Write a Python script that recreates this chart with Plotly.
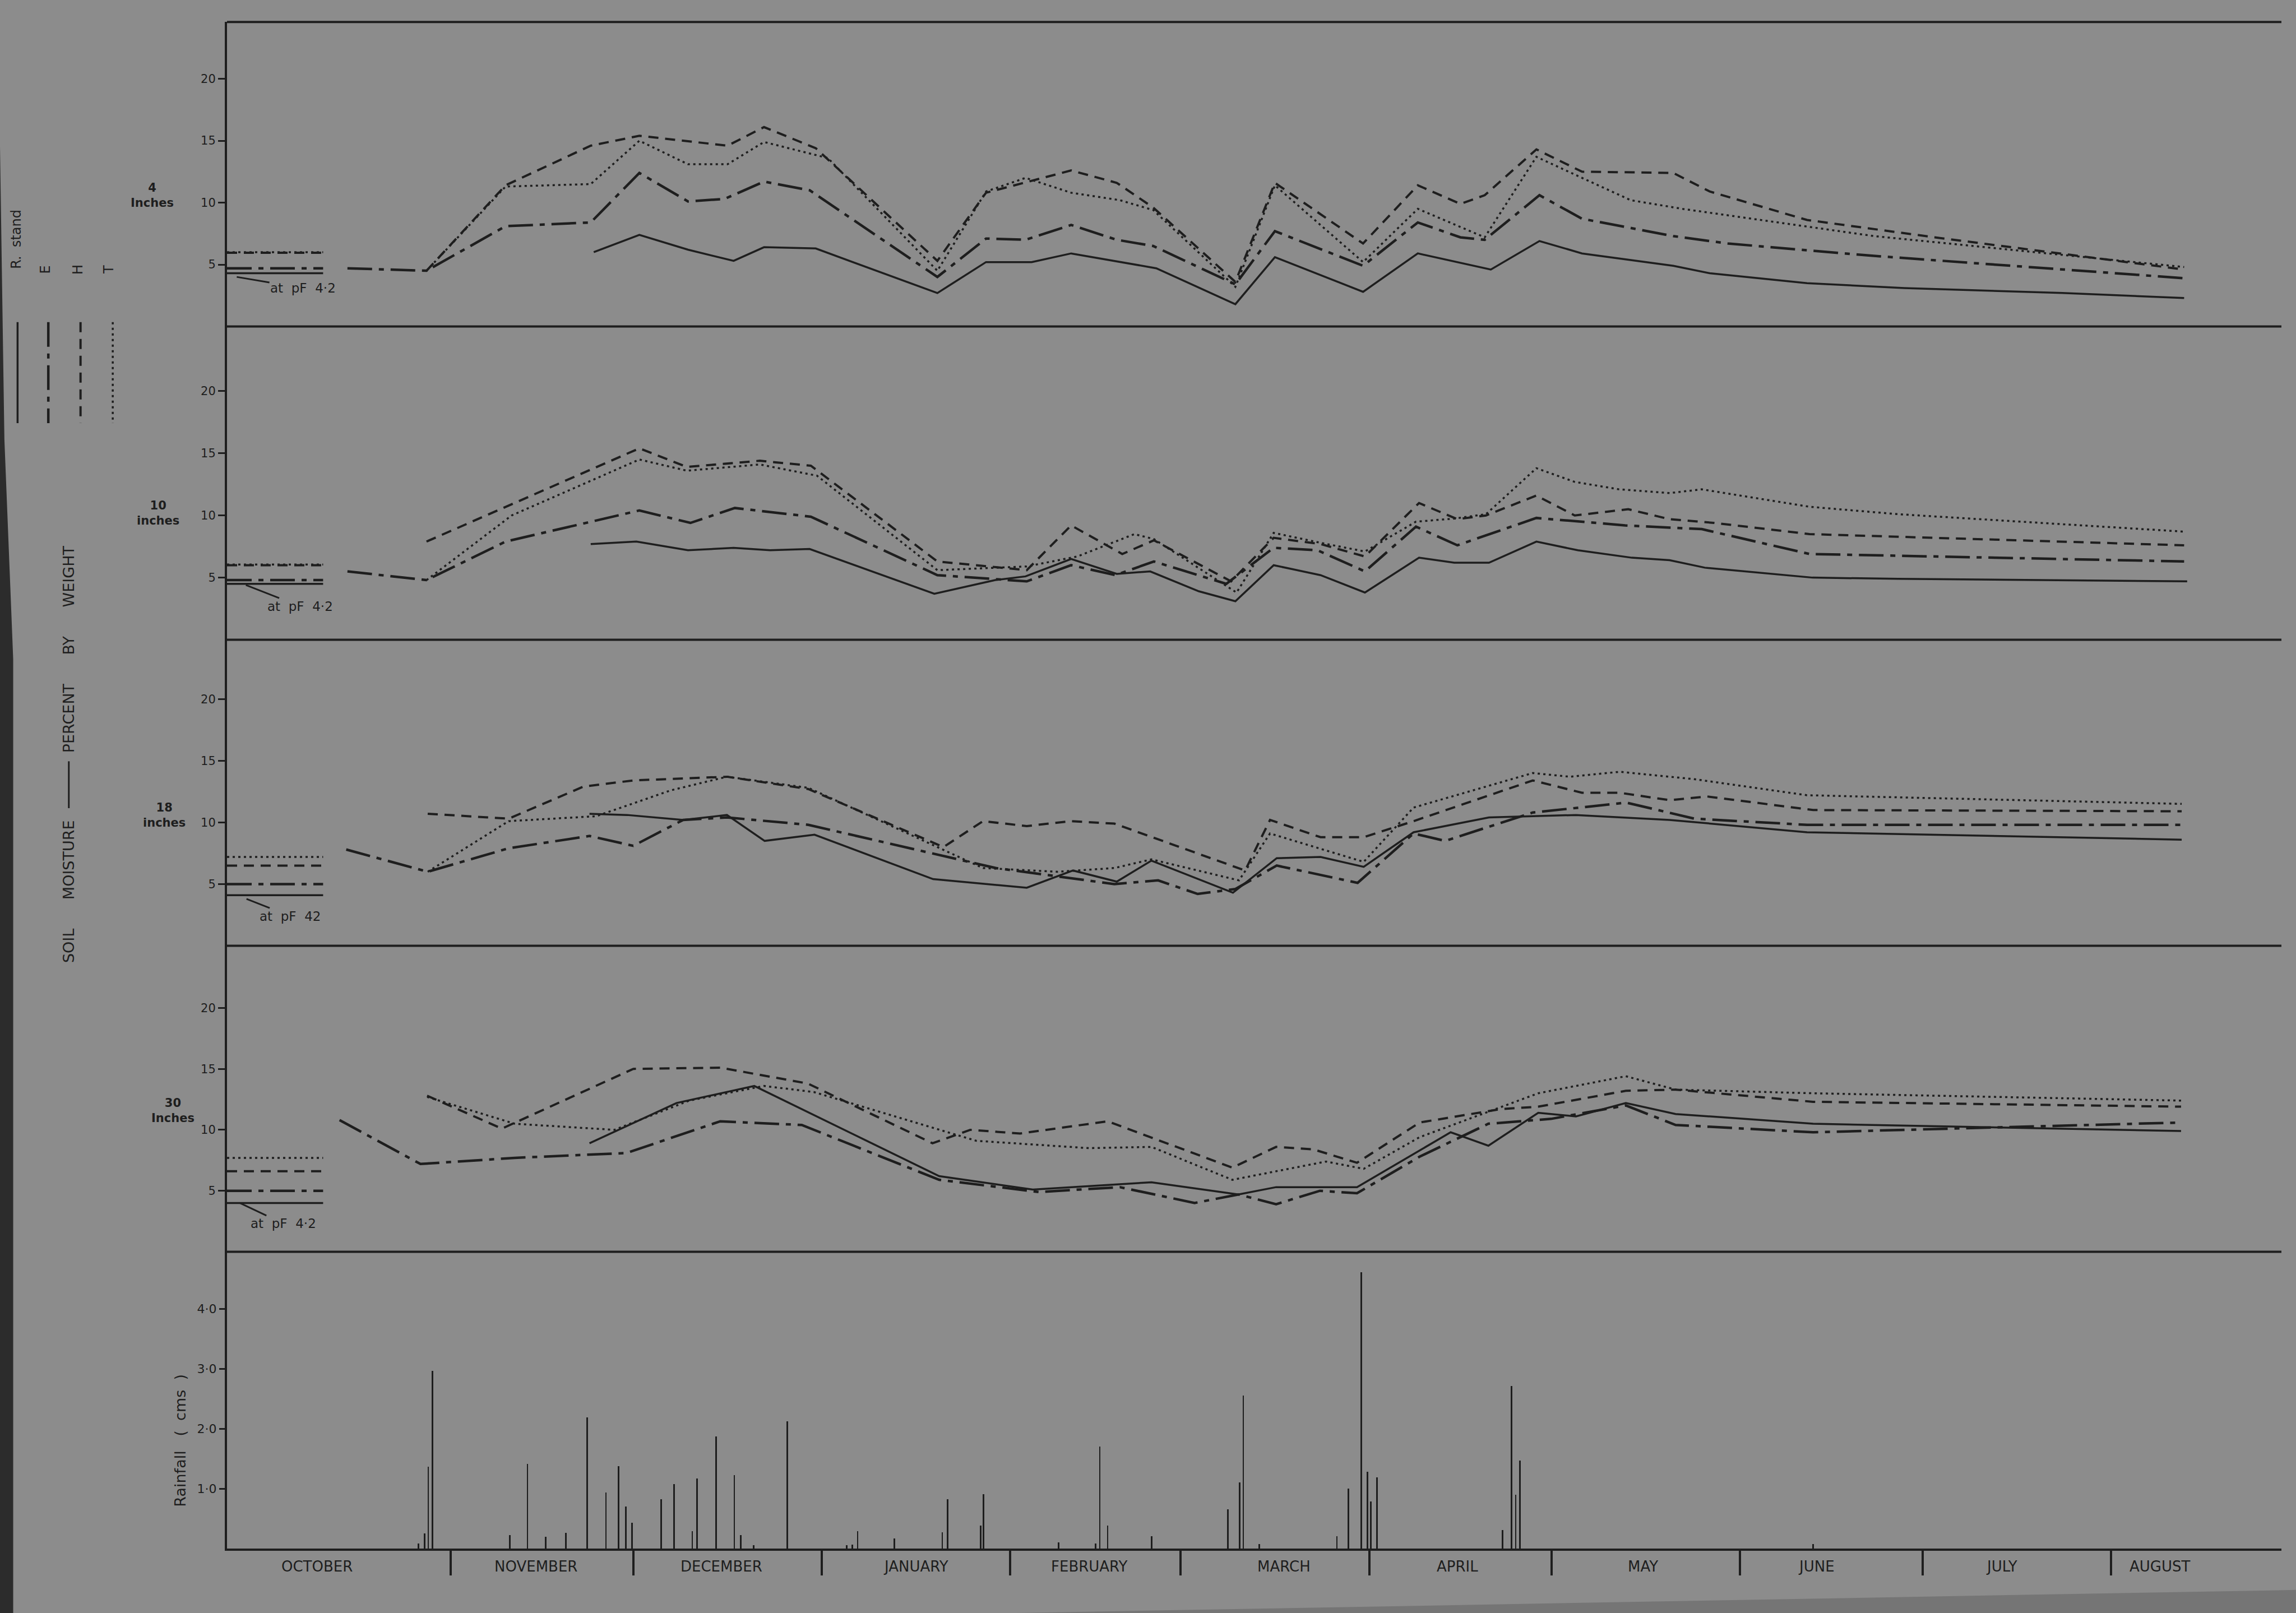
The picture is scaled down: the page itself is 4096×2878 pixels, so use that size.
import plotly.graph_objects as go

# ---------------- DATA (x = days from 1 October) ----------------
month_names = ["OCTOBER", "NOVEMBER", "DECEMBER", "JANUARY", "FEBRUARY", "MARCH",
               "APRIL", "MAY", "JUNE", "JULY", "AUGUST"]
month_label_day = [9, 45, 75.5, 107.5, 136, 168, 196.5, 227, 255.5, 286, 312]
month_bounds = [31, 61, 92, 123, 151, 182, 212, 243, 273, 304]

soil_ticks = [5, 10, 15, 20]
rain_ticks = [1, 2, 3, 4]
rain_ticktext = ["1·0", "2·0", "3·0", "4·0"]

# ---- 4 inches ----
d4_R_x = [54.5, 62, 70, 77.5, 82.5, 91, 111, 119, 126.5, 133, 147, 160, 166.5, 181, 190, 202, 210, 217, 232, 238, 254, 270, 296, 316]
d4_R_y = [6.0, 7.4, 6.2, 5.3, 6.4, 6.3, 2.7, 5.2, 5.2, 5.9, 4.7, 1.8, 5.6, 2.8, 5.9, 4.6, 6.9, 5.9, 4.9, 4.3, 3.5, 3.1, 2.7, 2.3]
d4_E_x = [14, 27, 40, 54, 62, 70, 76, 82.5, 90, 111, 119, 125.5, 133, 140.5, 146.5, 160, 166.5, 181, 190, 197, 201, 210, 217, 232, 241, 265, 316]
d4_E_y = [4.7, 4.5, 8.1, 8.4, 12.4, 10.1, 10.3, 11.7, 11.0, 4.0, 7.1, 7.0, 8.2, 7.0, 6.5, 3.4, 7.7, 4.9, 8.4, 7.2, 7.0, 10.6, 8.7, 7.3, 6.7, 5.7, 3.9]
d4_H_x = [27, 40, 54, 62, 76.5, 82.5, 91, 111, 119, 133, 140.5, 146.5, 160, 166.5, 181, 190, 197, 201, 209.5, 217, 232, 238, 254, 275, 316]
d4_H_y = [4.5, 11.4, 14.6, 15.4, 14.6, 16.1, 14.4, 5.3, 10.8, 12.6, 11.6, 9.6, 3.6, 11.6, 6.7, 11.4, 9.9, 10.6, 14.3, 12.5, 12.4, 10.9, 8.6, 7.2, 4.6]
d4_T_x = [27, 40, 54, 62, 70, 76.5, 82.5, 93, 111, 119, 125.5, 133, 141, 146.5, 160, 166.5, 181, 190, 201, 209.5, 217, 225, 233.5, 265, 316]
d4_T_y = [4.5, 11.3, 11.5, 15.0, 13.1, 13.1, 14.9, 13.6, 4.5, 10.9, 12.0, 10.8, 10.2, 9.4, 3.2, 11.4, 5.2, 9.5, 7.2, 13.7, 12.0, 10.2, 9.5, 7.3, 4.8]

# ---- 10 inches ----
d10_R_x = [54, 61.5, 70, 77.5, 83.5, 90, 110.5, 120.5, 125.5, 133, 140.5, 146, 154, 160, 166.3, 174, 181.3, 190.2, 196, 201.7, 209.5, 216.3, 225.2, 231.4, 237.2, 254.9, 269, 316.5]
d10_R_y = [7.7, 7.9, 7.2, 7.4, 7.2, 7.3, 3.7, 4.8, 5.1, 6.5, 5.3, 5.5, 3.9, 3.1, 6.0, 5.2, 3.8, 6.6, 6.2, 6.2, 7.9, 7.2, 6.6, 6.4, 5.8, 5.0, 4.9, 4.7]
d10_E_x = [14, 27, 40, 62, 70.4, 77.7, 90.2, 111, 125.7, 133, 140.3, 146.6, 158.5, 166.3, 173.5, 181.3, 189.7, 196.5, 209.5, 224.1, 236.7, 254.4, 316]
d10_E_y = [5.5, 4.8, 7.9, 10.4, 9.4, 10.6, 9.9, 5.2, 4.7, 6.0, 5.2, 6.3, 4.5, 7.4, 7.2, 5.5, 9.1, 7.6, 9.8, 9.2, 8.9, 6.9, 6.3]
d10_H_x = [27, 62, 69.8, 81.8, 90.2, 111, 125.7, 133, 141.4, 146.6, 159.3, 166.3, 174, 181.3, 190.2, 196.5, 201.2, 209.5, 215.8, 224.6, 231.4, 238.7, 254.4, 316]
d10_H_y = [7.9, 15.4, 13.9, 14.4, 14.0, 6.3, 5.6, 9.2, 6.9, 8.0, 4.7, 8.2, 7.7, 6.7, 11.0, 9.7, 10.0, 11.6, 10.0, 10.5, 9.7, 9.4, 8.5, 7.6]
d10_T_x = [27, 41, 62, 69.8, 81.8, 91.2, 111, 125.7, 134, 143.4, 146.6, 160.2, 166.3, 174, 181.3, 189.7, 196, 201.2, 209.5, 215.8, 223.1, 231.4, 236.7, 254.4, 269, 316]
d10_T_y = [4.8, 10.0, 14.5, 13.6, 14.1, 13.2, 5.6, 5.9, 6.7, 8.5, 8.1, 3.8, 8.6, 7.8, 7.1, 9.5, 9.75, 10.1, 13.8, 12.7, 12.1, 11.8, 12.1, 10.7, 10.1, 8.7]

# ---- 18 inches ----
d18_R_x = [53.8, 60, 69.2, 76.4, 82.6, 90.8, 110.3, 125.7, 133.3, 140.5, 146.2, 159.6, 166.8, 174, 181.1, 189.3, 201.7, 216, 231.4, 254, 315.6]
d18_R_y = [10.7, 10.6, 10.2, 10.6, 8.5, 9.0, 5.4, 4.7, 6.1, 5.2, 6.9, 4.3, 7.1, 7.2, 6.4, 9.2, 10.4, 10.6, 10.2, 9.2, 8.6]
d18_E_x = [13.8, 27.2, 40.5, 53.8, 61, 69.2, 76.4, 89.8, 120.6, 140.1, 147.3, 153.8, 160, 166.8, 180.1, 189.3, 194.5, 208.9, 224.3, 235.5, 254, 315.6]
d18_E_y = [7.8, 6.0, 7.9, 8.9, 8.1, 10.2, 10.4, 9.8, 6.3, 5.0, 5.3, 4.2, 4.6, 6.5, 5.1, 9.1, 8.5, 10.8, 11.6, 10.3, 9.8, 9.8]
d18_H_x = [27.2, 40.5, 52.8, 61, 76.4, 89.8, 112, 118.5, 125.7, 132.9, 140.1, 161.6, 165.7, 174, 181.1, 189.3, 208.9, 217, 223.2, 231.4, 237.6, 255, 315.6]
d18_H_y = [10.7, 10.3, 12.9, 13.4, 13.7, 12.7, 8.0, 10.1, 9.7, 10.1, 9.9, 6.1, 10.2, 8.8, 8.8, 10.1, 13.4, 12.4, 12.4, 11.8, 12.1, 11.0, 10.9]
d18_T_x = [27.2, 40.5, 54.9, 67.2, 76.4, 89.8, 118.5, 130.8, 140.1, 146.2, 160.6, 165.7, 181.1, 189.3, 208.9, 215, 223.2, 235.5, 254, 315.6]
d18_T_y = [6.0, 10.1, 10.5, 12.6, 13.7, 12.8, 6.3, 6.0, 6.3, 7.0, 5.3, 9.1, 6.8, 11.2, 14.0, 13.7, 14.1, 13.5, 12.2, 11.5]

# ---- 30 inches ----
d30_R_x = [53.8, 68.1, 80.9, 111.3, 126.7, 146.2, 160.5, 166.7, 180, 195.4, 201.6, 209.8, 216, 224.2, 232.4, 255, 315.5]
d30_R_y = [8.9, 12.2, 13.6, 6.2, 5.1, 5.7, 4.7, 5.3, 5.3, 9.8, 8.7, 11.4, 11.1, 12.2, 11.3, 10.5, 9.9]
d30_E_x = [12.7, 26, 41.5, 59.9, 75.3, 88.7, 111.3, 127.7, 141, 153.3, 160.5, 166.7, 173.9, 180, 190.3, 201.6, 211.9, 224.2, 232.4, 255, 315.5]
d30_E_y = [10.8, 7.2, 7.7, 8.1, 10.7, 10.4, 5.9, 4.9, 5.3, 4.0, 4.7, 3.9, 5.0, 4.8, 7.8, 10.5, 10.9, 12.0, 10.4, 9.8, 10.6]
d30_H_x = [27.1, 39.4, 61, 75.3, 89.7, 110.2, 116.4, 124.6, 139, 159.5, 166.7, 172.8, 180, 190.3, 203.6, 209.8, 224.2, 232.4, 255, 315.5]
d30_H_y = [12.8, 10.1, 15.0, 15.1, 13.8, 8.9, 10.0, 9.7, 10.7, 6.9, 8.6, 8.4, 7.3, 10.6, 11.7, 11.9, 13.2, 13.3, 12.3, 11.9]
d30_T_x = [27.1, 41.5, 57.9, 70.2, 82.5, 90.7, 117.4, 135.9, 146.2, 159.5, 174.9, 181.1, 190.3, 209.8, 224.2, 232.4, 255, 315.5]
d30_T_y = [12.7, 10.5, 10.0, 12.4, 13.6, 13.1, 9.1, 8.5, 8.6, 5.9, 7.4, 6.8, 9.4, 13.0, 14.4, 13.3, 13.0, 12.4]

# ---- moisture at pF 4.2 (R, E, H, T) per depth ----
pf_x = [-5.8, 10]
pf_4in = {"R": 4.3, "E": 4.7, "H": 5.95, "T": 6.0}
pf_10in = {"R": 4.5, "E": 4.8, "H": 6.0, "T": 6.05}
pf_18in = {"R": 4.1, "E": 5.0, "H": 6.5, "T": 7.2}
pf_30in = {"R": 4.0, "E": 5.0, "H": 6.6, "T": 7.7}

# ---- rainfall (cms) ----
rain_x = [25.7, 26.7, 27.3, 28, 40.7, 43.6, 46.6, 49.9, 53.4, 56.5, 58.6, 59.8, 60.8,
          65.6, 67.7, 70.7, 71.5, 74.6, 77.6, 78.7, 80.8, 86.3, 96.1, 97, 97.9, 103.9,
          111.8, 112.7, 118.1, 118.6, 130.9, 137, 137.7, 139, 146.2, 158.8, 160.7, 161.3,
          163.9, 176.7, 178.6, 180.7, 181.7, 182.3, 183.3, 203.9, 205.4, 206.1, 206.8, 255]
rain_y = [0.08, 0.25, 1.36, 2.96, 0.22, 1.41, 0.19, 0.26, 2.18, 0.93, 1.37, 0.70, 0.43,
          0.82, 1.07, 0.29, 1.16, 1.87, 1.22, 0.22, 0.05, 2.12, 0.05, 0.06, 0.29, 0.16,
          0.27, 0.82, 0.38, 0.90, 0.10, 0.08, 1.70, 0.38, 0.20, 0.65, 1.10, 2.55,
          0.07, 0.20, 1.00, 4.60, 1.28, 0.78, 1.18, 0.30, 2.71, 0.89, 1.46, 0.07]

# ---------------- STYLE / LAYOUT ----------------
W, H = 4096, 2878
ML, MR, MT, MB = 405, 26, 39, 115
PW, PH = W - ML - MR, H - MT - MB
D = 2.6122  # reference-display px -> output px


def PX(xo):
    return (xo - ML) / PW


def PY(yo):
    return (H - MB - yo) / PH


INK = "#1e1e1e"
BG = "#8c8c8c"
FONT = "DejaVu Sans"

STY = {
    "R": dict(color=INK, width=3.5, dash="solid"),
    "E": dict(color=INK, width=4.5, dash="44px,12px,9px,12px"),
    "H": dict(color=INK, width=4, dash="18px,12px"),
    "T": dict(color=INK, width=3.5, dash="4px,6px"),
}

fig = go.Figure()

panels = [
    ("y", {"R": (d4_R_x, d4_R_y), "E": (d4_E_x, d4_E_y), "H": (d4_H_x, d4_H_y), "T": (d4_T_x, d4_T_y)}, pf_4in),
    ("y2", {"R": (d10_R_x, d10_R_y), "E": (d10_E_x, d10_E_y), "H": (d10_H_x, d10_H_y), "T": (d10_T_x, d10_T_y)}, pf_10in),
    ("y3", {"R": (d18_R_x, d18_R_y), "E": (d18_E_x, d18_E_y), "H": (d18_H_x, d18_H_y), "T": (d18_T_x, d18_T_y)}, pf_18in),
    ("y4", {"R": (d30_R_x, d30_R_y), "E": (d30_E_x, d30_E_y), "H": (d30_H_x, d30_H_y), "T": (d30_T_x, d30_T_y)}, pf_30in),
]

for yref, series, pf in panels:
    for key in ["T", "H", "E", "R"]:
        xs, ys = series[key]
        fig.add_trace(go.Scatter(x=xs, y=ys, mode="lines", line=STY[key],
                                 xaxis="x", yaxis=yref, hoverinfo="skip", showlegend=False))
        fig.add_trace(go.Scatter(x=pf_x, y=[pf[key], pf[key]], mode="lines", line=STY[key],
                                 xaxis="x", yaxis=yref, hoverinfo="skip", showlegend=False))

fig.add_trace(go.Bar(x=rain_x, y=rain_y, width=0.25, marker=dict(color=INK, line=dict(width=0)),
                     xaxis="x", yaxis="y5", hoverinfo="skip", showlegend=False))

# panel boundaries (display px of reference: 15, 223, 437, 646, 855, 1058)
bounds_disp = [15, 223, 437, 646, 855, 1058]
bnd = [PY(b * D) for b in bounds_disp]
domains = [(bnd[i + 1], bnd[i]) for i in range(5)]
domains[0] = (domains[0][0], 1.0)
domains[-1] = (0.0, domains[-1][1])
ranges = [[0, 24.6], [0, 25.2], [0, 24.8], [0, 25.1], [0, 4.95]]

yax_common = dict(showline=True, linecolor=INK, linewidth=4, ticks="outside", ticklen=12,
                  tickwidth=3, tickcolor=INK, showgrid=False, zeroline=False, anchor="x",
                  fixedrange=True, tickfont=dict(family=FONT, size=21, color=INK))

layout_axes = {}
names = ["yaxis", "yaxis2", "yaxis3", "yaxis4", "yaxis5"]
for i, nm in enumerate(names):
    ax = dict(yax_common)
    ax["domain"] = list(domains[i])
    ax["range"] = ranges[i]
    if i < 4:
        ax["tickvals"] = soil_ticks
        ax["ticktext"] = [str(v) for v in soil_ticks]
    else:
        ax["tickvals"] = rain_ticks
        ax["ticktext"] = rain_ticktext
        ax["tickfont"] = dict(family=FONT, size=22, color=INK)
        ax["ticklen"] = 10
    layout_axes[nm] = ax

fig.update_layout(
    width=W, height=H,
    margin=dict(l=ML, r=MR, t=MT, b=MB),
    paper_bgcolor=BG, plot_bgcolor=BG,
    showlegend=False,
    font=dict(family=FONT, color=INK, size=22),
    bargap=0,
    xaxis=dict(range=[-5.8, 332], anchor="y5", showline=True, linecolor=INK, linewidth=4,
               ticks="outside", ticklen=44, tickwidth=4, tickcolor=INK,
               tickvals=month_bounds, showticklabels=False, showgrid=False, zeroline=False,
               fixedrange=True),
    **layout_axes,
)

shapes = []
# horizontal panel separators + top border
for b in bnd[:5]:
    shapes.append(dict(type="line", xref="paper", yref="paper", x0=0, x1=1, y0=b, y1=b,
                       line=dict(color=INK, width=4)))

# legend sample lines (vertical)
leg_x_disp = {"R": 12, "E": 33, "H": 55, "T": 77}
for key, xd in leg_x_disp.items():
    shapes.append(dict(type="line", xref="paper", yref="paper",
                       x0=PX(xd * D), x1=PX(xd * D), y0=PY(220 * D), y1=PY(289 * D),
                       line=dict(color=INK, width=STY[key]["width"], dash=STY[key]["dash"])))

# rule between "MOISTURE" and "PERCENT" in the side title
shapes.append(dict(type="line", xref="paper", yref="paper",
                   x0=PX(47 * D), x1=PX(47 * D), y0=PY(520 * D), y1=PY(552 * D),
                   line=dict(color=INK, width=3)))

# photo edge (dark strip at left) and darker corner at bottom right
strip = [(0, 100), (3, 300), (9, 450), (9, 1102), (0, 1102)]
path = "M " + " L ".join(f"{PX(x * D)},{PY(y * D)}" for x, y in strip) + " Z"
shapes.append(dict(type="path", xref="paper", yref="paper", path=path,
                   fillcolor="#2c2c2c", line=dict(width=0), layer="below"))
wedge = [(681, 1102), (1568, 1086), (1568, 1102)]
path = "M " + " L ".join(f"{PX(x * D)},{PY(y * D)}" for x, y in wedge) + " Z"
shapes.append(dict(type="path", xref="paper", yref="paper", path=path,
                   fillcolor="#757575", line=dict(width=0), layer="below"))

fig.update_layout(shapes=shapes)

ann = []
NB = "\u00a0"
C = dict(xanchor="center", yanchor="middle")
# legend letters
ann.append(dict(text=f"R.{NB}{NB}stand", x=PX(11 * D), y=PY(163.5 * D), xref="paper", yref="paper",
                textangle=-90, showarrow=False, font=dict(size=24, family=FONT, color=INK), **C))
for letter, xd in [("E", 31), ("H", 53), ("T", 74)]:
    ann.append(dict(text=letter, x=PX(xd * D), y=PY(184 * D), xref="paper", yref="paper",
                    textangle=-90, showarrow=False, font=dict(size=24, family=FONT, color=INK), **C))

# main y label (the rule between words is drawn as a shape)
sp = NB * 6
ylabel = f"SOIL{sp}MOISTURE{NB * 14}PERCENT{sp}BY{sp}WEIGHT"
ann.append(dict(text=ylabel, x=PX(47 * D), y=PY(515 * D), xref="paper", yref="paper",
                textangle=-90, showarrow=False, font=dict(size=27, family=FONT, color=INK), **C))

# rainfall label
ann.append(dict(text=f"Rainfall{NB}{NB}{NB}({NB}{NB}cms{NB}{NB})", x=PX(123 * D), y=PY(984 * D),
                xref="paper", yref="paper", textangle=-90, showarrow=False,
                font=dict(size=27, family=FONT, color=INK), **C))

# depth labels
for txt, yref, val, xd in [("4<br>Inches", "y", 10.6, 104), ("10<br>inches", "y2", 10.2, 108),
                           ("18<br>inches", "y3", 10.6, 112), ("30<br>Inches", "y4", 11.6, 118)]:
    ann.append(dict(text=f"<b>{txt}</b>", x=PX(xd * D), y=val, xref="paper", yref=yref,
                    showarrow=False, font=dict(size=21, family=FONT, color=INK), **C))

# "at pF 4.2" notes with hook
for txt, yref, hx, hy, tx, ty in [(f"at{NB}{NB}pF{NB}{NB}4·2", "y", -4.2, 4.0, 6.7, 3.1),
                                  (f"at{NB}{NB}pF{NB}{NB}4·2", "y2", -2.7, 4.4, 6.2, 2.7),
                                  (f"at{NB}{NB}pF{NB}{NB}42", "y3", -2.6, 3.8, 4.6, 2.4),
                                  (f"at{NB}{NB}pF{NB}{NB}4·2", "y4", -3.7, 4.0, 3.5, 2.3)]:
    ann.append(dict(text=txt, x=hx, y=hy, xref="x", yref=yref, ax=tx, ay=ty, axref="x", ayref=yref,
                    showarrow=True, arrowhead=0, arrowwidth=3, arrowcolor=INK,
                    font=dict(size=23, family=FONT, color=INK)))

# month names
for name, d in zip(month_names, month_label_day):
    ann.append(dict(text=name, x=d, y=PY((1058 + 12) * D), xref="x", yref="paper",
                    showarrow=False, font=dict(size=26, family=FONT, color=INK), **C))

fig.update_layout(annotations=ann)

fig.write_html("out.html")
